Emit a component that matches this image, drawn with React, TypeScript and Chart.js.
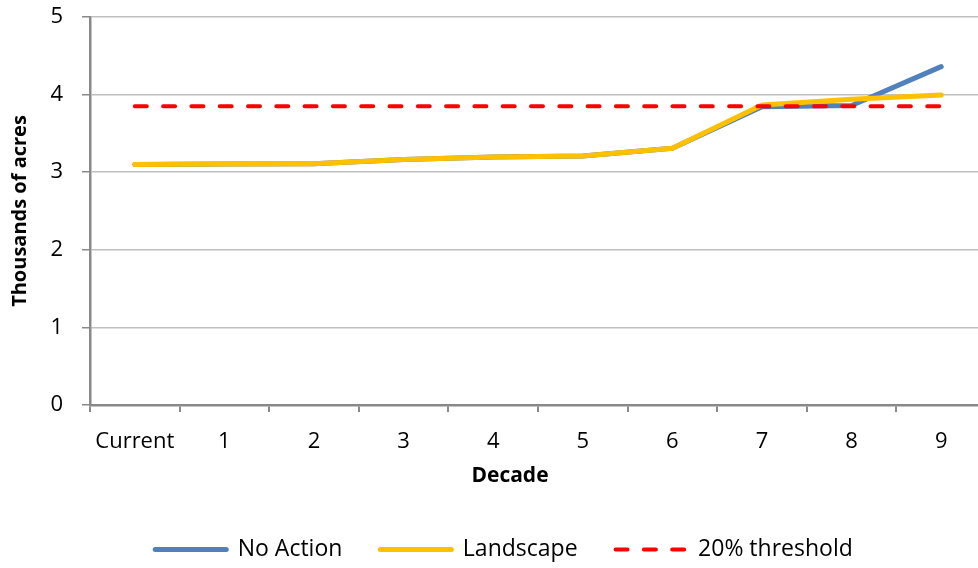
import React, { useEffect, useRef } from 'react';
import { Chart, registerables } from 'chart.js';

Chart.register(...registerables);

// ---- data ----
const decades = ['Current', '1', '2', '3', '4', '5', '6', '7', '8', '9'];
const noAction = [3.10, 3.105, 3.11, 3.165, 3.195, 3.21, 3.31, 3.845, 3.86, 4.36];
const landscape = [3.10, 3.105, 3.11, 3.165, 3.195, 3.21, 3.31, 3.865, 3.94, 3.995];
const threshold = [3.85, 3.85, 3.85, 3.85, 3.85, 3.85, 3.85, 3.85, 3.85, 3.85];
const seriesNames = ['No Action', 'Landscape', '20% threshold'];
const seriesColors = ['#4F81BD', '#FFC000', '#FF0000'];
const yMin = 0;
const yMax = 5;
const yStep = 1;
const yAxisTitle = 'Thousands of acres';
const xAxisTitle = 'Decade';

const FONT = '"Open Sans", "Noto Sans", sans-serif';

const xTitlePlugin = {
  id: 'xTitleShifted',
  afterLayout(chart: any) {
    // nudge the centred legend a little to the right, as in the original
    if (chart.legend) {
      chart.legend.left += 22;
    }
  },
  afterDraw(chart: any) {
    const { ctx, chartArea } = chart;
    ctx.save();
    ctx.font = `bold 21px ${FONT}`;
    ctx.fillStyle = '#000';
    ctx.textAlign = 'center';
    ctx.textBaseline = 'middle';
    ctx.fillText(xAxisTitle, (chartArea.left + chartArea.right) / 2 - 28, chartArea.bottom + 71);
    ctx.restore();
  },
};

export default function App() {
  const ref = useRef<HTMLCanvasElement | null>(null);

  useEffect(() => {
    if (!ref.current) return;
    const chart = new Chart(ref.current, {
      type: 'line',
      data: {
        labels: decades,
        datasets: [
          {
            label: seriesNames[0],
            data: noAction,
            borderColor: seriesColors[0],
            backgroundColor: seriesColors[0],
            borderWidth: 5,
            borderCapStyle: 'round',
            borderJoinStyle: 'round',
            pointRadius: 0,
            tension: 0,
            order: 3,
          },
          {
            label: seriesNames[1],
            data: landscape,
            borderColor: seriesColors[1],
            backgroundColor: seriesColors[1],
            borderWidth: 5,
            borderCapStyle: 'round',
            borderJoinStyle: 'round',
            pointRadius: 0,
            tension: 0,
            order: 2,
          },
          {
            label: seriesNames[2],
            data: threshold,
            borderColor: seriesColors[2],
            backgroundColor: seriesColors[2],
            borderWidth: 4,
            borderDash: [12, 16.3],
            borderCapStyle: 'round',
            pointRadius: 0,
            tension: 0,
            order: 1,
          },
        ],
      },
      options: {
        responsive: false,
        animation: false,
        devicePixelRatio: 1,
        layout: { padding: { top: 17, left: 0, right: 0, bottom: 0 } },
        scales: {
          x: {
            offset: true,
            grid: {
              offset: true,
              drawOnChartArea: false,
              tickLength: 7,
              tickColor: '#898989',
              lineWidth: 2,
            },
            border: { color: '#898989', width: 2.5 },
            ticks: {
              color: '#000',
              font: { family: FONT, size: 22 },
              padding: 17,
              maxRotation: 0,
              autoSkip: false,
            },
            afterFit(scale: any) {
              scale.height = 95;
            },
          },
          y: {
            min: yMin,
            max: yMax,
            grid: {
              color: '#C0C0C0',
              lineWidth: 1.5,
              tickLength: 8,
              tickColor: '#898989',
            },
            border: { color: '#898989', width: 2.5 },
            ticks: {
              stepSize: yStep,
              color: '#000',
              font: { family: FONT, size: 22 },
              padding: 19,
            },
            title: {
              display: true,
              text: yAxisTitle,
              color: '#000',
              font: { family: FONT, size: 20, weight: 'bold' },
              padding: { top: 8, bottom: 0 },
            },
            afterFit(scale: any) {
              scale.width = 90;
              scale.paddingTop = 12;
              scale.paddingBottom = 12;
            },
          },
        },
        plugins: {
          tooltip: { enabled: false },
          legend: {
            position: 'bottom',
            labels: {
              color: '#000',
              font: { family: FONT, size: 23 },
              usePointStyle: true,
              pointStyleWidth: 71,
              boxHeight: 23,
              padding: 38,
              generateLabels(c: any) {
                return c.data.datasets.map((ds: any, i: number) => ({
                  text: ds.label,
                  fillStyle: ds.borderColor,
                  strokeStyle: ds.borderColor,
                  lineWidth: ds.borderWidth,
                  lineDash: ds.borderDash || [],
                  lineCap: ds.borderCapStyle,
                  pointStyle: 'line',
                  fontColor: '#000',
                  hidden: false,
                  datasetIndex: i,
                }));
              },
            },
          },
        },
      },
      plugins: [xTitlePlugin],
    } as any);
    return () => chart.destroy();
  }, []);

  return (
    <div
      style={{
        position: 'fixed',
        left: 0,
        top: 0,
        width: 978,
        height: 568,
        overflow: 'hidden',
        background: '#fff',
      }}
    >
      <canvas ref={ref} width={986} height={571} style={{ display: 'block', width: 986, height: 571 }} />
    </div>
  );
}
